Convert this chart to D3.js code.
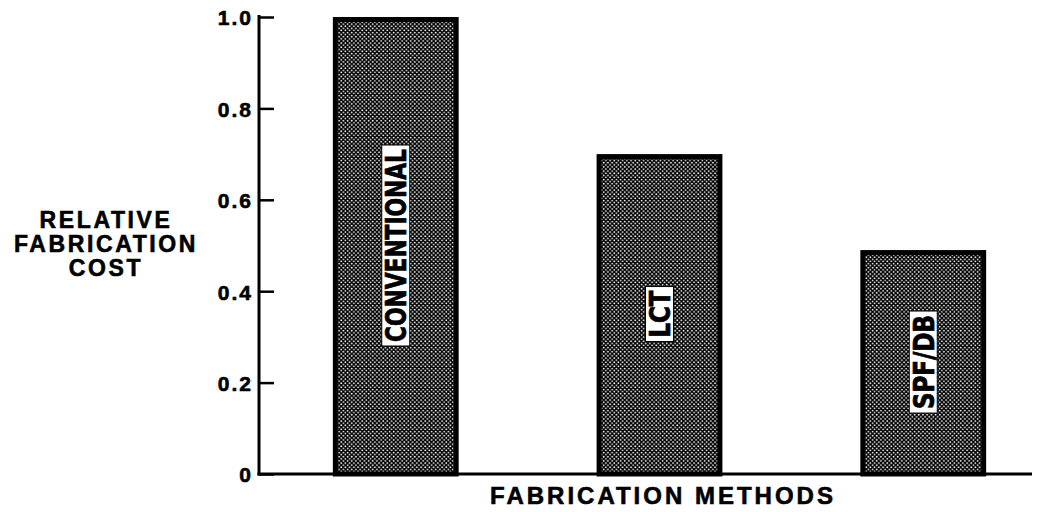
<!DOCTYPE html>
<html>
<head>
<meta charset="utf-8">
<script src="https://cdn.jsdelivr.net/npm/d3@7"></script>
<style>
  body { margin: 0; background: #fff; }
  text { font-family: "Liberation Sans", Arial, Helvetica, sans-serif; font-weight: bold; fill: #000; }
  .barlabel { font-family: "Liberation Sans Narrow", "Arial Narrow", "DejaVu Sans Condensed", sans-serif; }
</style>
</head>
<body>
<svg id="chart" width="1045" height="512"></svg>
<script>
// data
var methods = ["CONVENTIONAL", "LCT", "SPF/DB"];
var relCost = [1.0, 0.70, 0.49];
var labelLen = [193, 47, 94];
var yTicks = [0, 0.2, 0.4, 0.6, 0.8, 1.0];
var yTickLabels = ["0", "0.2", "0.4", "0.6", "0.8", "1.0"];
var yTitle = ["RELATIVE", "FABRICATION", "COST"];
var xTitle = "FABRICATION METHODS";

var svg = d3.select("#chart");
var axisX = 259, baseY = 474, topY = 17, endX = 1032;

var y = d3.scaleLinear().domain([0, 1]).range([baseY, topY]);
var x = d3.scaleBand().domain(methods)
  .range([axisX, 1060])
  .paddingInner(0.523)
  .paddingOuter(0.28);

// halftone look for the bars
var defs = svg.append("defs");
var pat = defs.append("pattern")
  .attr("id", "halftone")
  .attr("patternUnits", "userSpaceOnUse")
  .attr("width", 4.2).attr("height", 4.2);
pat.append("rect").attr("width", 4.2).attr("height", 4.2).attr("fill", "#000");
pat.append("circle").attr("cx", 1.05).attr("cy", 1.05).attr("r", 0.9).attr("fill", "#fff");
pat.append("circle").attr("cx", 3.15).attr("cy", 3.15).attr("r", 0.9).attr("fill", "#fff");

// bars
svg.append("g").selectAll("rect")
  .data(methods)
  .enter()
  .append("rect")
  .attr("x", function(d) { return x(d) + 2.5; })
  .attr("y", function(d, i) { return y(relCost[i]) + 2.5; })
  .attr("width", x.bandwidth() - 5)
  .attr("height", function(d, i) { return baseY - y(relCost[i]) - 2.5; })
  .attr("fill", "url(#halftone)")
  .attr("stroke", "#000")
  .attr("stroke-width", 5);

// labels inside bars, rotated, on white boxes
var labG = svg.append("g");
methods.forEach(function(m, i) {
  var cx = x(m) + x.bandwidth() / 2;
  var cy = y(relCost[i] / 2);
  var g = labG.append("g").attr("transform", "translate(" + cx + "," + cy + ") rotate(-90)");
  g.append("rect")
    .attr("x", -labelLen[i] / 2 - 4).attr("y", -14)
    .attr("width", labelLen[i] + 8).attr("height", 28)
    .attr("fill", "#fff").attr("stroke", "#000").attr("stroke-width", 1);
  g.append("text")
    .attr("class", "barlabel")
    .attr("text-anchor", "middle")
    .attr("dy", "0.36em")
    .attr("textLength", labelLen[i])
    .attr("lengthAdjust", "spacingAndGlyphs")
    .style("font-size", "29px")
    .style("stroke", "#000").style("stroke-width", 0.7)
    .text(m);
});

// y axis
var yAxis = d3.axisRight(y)
  .tickValues(yTicks)
  .tickSize(15)
  .tickFormat(function() { return ""; });
var ya = svg.append("g").attr("transform", "translate(" + axisX + ",0)").call(yAxis);
ya.select(".domain").remove();
ya.selectAll(".tick line").attr("stroke", "#000").attr("stroke-width", 2.5);
svg.append("line")
  .attr("x1", axisX).attr("x2", axisX)
  .attr("y1", y(1) - 2).attr("y2", baseY + 1.5)
  .attr("stroke", "#000").attr("stroke-width", 3);

svg.append("g").selectAll("text")
  .data(yTicks)
  .enter()
  .append("text")
  .attr("x", 253)
  .attr("y", function(d) { return y(d) + 1; })
  .attr("dy", "0.35em")
  .attr("text-anchor", "end")
  .style("font-size", "21px")
  .style("letter-spacing", "2px")
  .style("stroke", "#000").style("stroke-width", 0.6)
  .text(function(d, i) { return yTickLabels[i]; });

// x axis line
svg.append("line")
  .attr("x1", axisX - 1.5).attr("x2", endX)
  .attr("y1", baseY).attr("y2", baseY)
  .attr("stroke", "#000").attr("stroke-width", 3);

// axis titles
svg.append("g").selectAll("text")
  .data(yTitle)
  .enter()
  .append("text")
  .attr("x", 106)
  .attr("y", function(d, i) { return 228 + i * 24; })
  .attr("text-anchor", "middle")
  .style("font-size", "23px")
  .style("letter-spacing", "2.6px")
  .style("stroke", "#000").style("stroke-width", 0.6)
  .text(function(d) { return d; });

svg.append("text")
  .attr("x", 663)
  .attr("y", 504)
  .attr("text-anchor", "middle")
  .style("font-size", "24px")
  .style("letter-spacing", "3px")
  .style("stroke", "#000").style("stroke-width", 0.6)
  .text(xTitle);
</script>
</body>
</html>
